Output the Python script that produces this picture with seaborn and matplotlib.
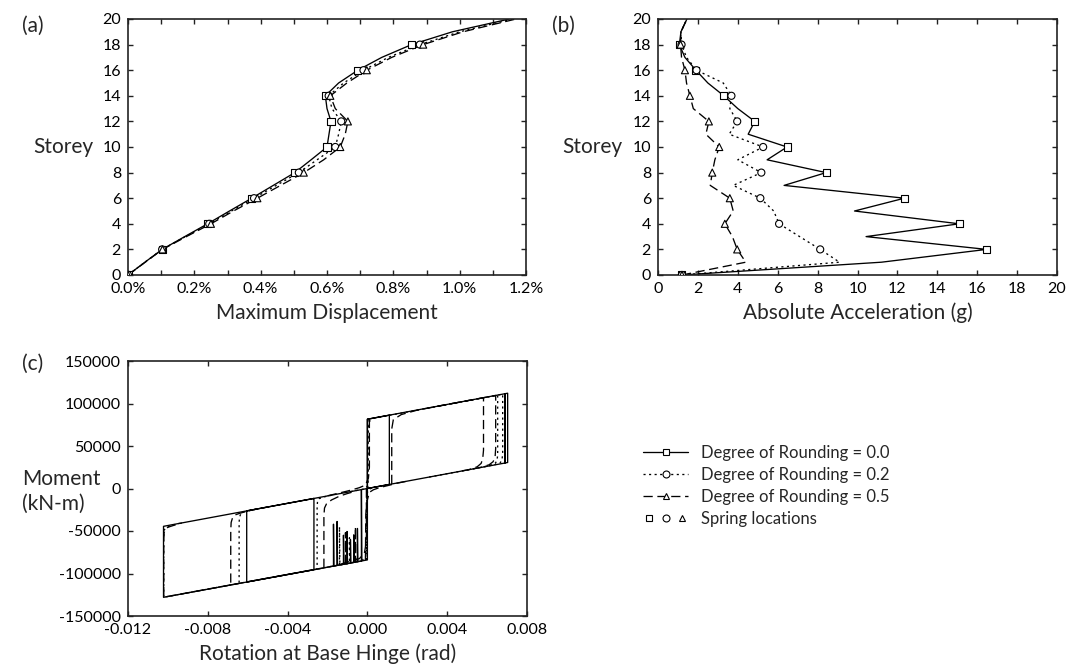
import numpy as np
import pandas as pd
import matplotlib
matplotlib.use("Agg")
import matplotlib.pyplot as plt
import seaborn as sns
from matplotlib.lines import Line2D
from matplotlib.legend_handler import HandlerTuple
from matplotlib.ticker import MultipleLocator, FuncFormatter

# ---------------- data ----------------
series_names = ["Degree of Rounding = 0.0", "Degree of Rounding = 0.2", "Degree of Rounding = 0.5"]
storeys = list(range(21))
spring_storeys = [0, 2, 4, 6, 8, 10, 12, 14, 16, 18]

# (a) maximum displacement (%) per storey 0..20
disp_r00 = [0, 0.051, 0.103, 0.171, 0.24, 0.306, 0.373, 0.438, 0.503, 0.552, 0.600, 0.606, 0.612, 0.600, 0.595, 0.635, 0.693, 0.765, 0.855, 0.978, 1.15]
disp_r02 = [0, 0.051, 0.103, 0.173, 0.245, 0.312, 0.38, 0.447, 0.515, 0.57, 0.625, 0.635, 0.643, 0.615, 0.605, 0.65, 0.71, 0.785, 0.88, 1.0, 1.16]
disp_r05 = [0, 0.052, 0.104, 0.176, 0.25, 0.318, 0.39, 0.46, 0.53, 0.59, 0.64, 0.655, 0.663, 0.625, 0.61, 0.66, 0.72, 0.795, 0.89, 1.01, 1.17]

# (b) absolute acceleration (g) per storey 0..20
acc_r00 = [1.2, 11.2, 16.47, 10.43, 15.1, 9.85, 12.35, 6.32, 8.43, 5.47, 6.47, 4.52, 4.85, 4.0, 3.3, 2.5, 1.9, 1.35, 1.07, 1.15, 1.45]
acc_r02 = [1.2, 9.1, 8.13, 7.1, 6.07, 5.8, 5.13, 3.77, 5.18, 4.0, 5.27, 3.57, 3.97, 3.6, 3.68, 3.27, 1.93, 1.43, 1.18, 1.15, 1.45]
acc_r05 = [1.2, 4.4, 3.97, 3.73, 3.35, 3.77, 3.6, 2.62, 2.72, 2.85, 3.07, 2.4, 2.55, 1.77, 1.6, 1.43, 1.35, 1.18, 1.13, 1.15, 1.45]

# (c) moment-rotation hysteresis paths (rad, kN-m), stroke ids
rot_r00 = [0, 0, 0.0011, 0.0011, 0, 0, 0.00703, 0.00703, 0.0069, 0.0069, 0.0069, 0, -0.00268, -0.00268, -0.00605, -0.00605, -0.00268, -0.01022, -0.01022, 0, 0,
           -0.0017, -0.0017, -0.00168, -0.00152, -0.00152, -0.0015, -0.0012, -0.0012, -0.00118, -0.00102, -0.00102, -0.001,
           -0.00085, -0.00085, -0.00083, -0.00068, -0.00068, -0.00066, -0.0005, -0.0005, -0.00048, -0.0003, -0.0003, -0.00028]
mom_r00 = [0, 81500, 86300, 4800, 0, 81500, 112100, 30600, 30000, 111500, 30000, 0, -11700, -95500, -110000, -26300, -11700, -44500, -128000, -84000, 0,
           -91300, -42000, -91200, -90500, -38800, -90400, -89200, -55000, -89100, -88400, -50600, -88300,
           -87700, -60000, -87600, -86900, -54500, -86800, -86200, -47000, -86100, -85300, -1300, -85200]
stk_r00 = [0] * 21 + [1] * 24

rot_r02 = [-0.00005, -0.00004, 0.0, 0.0001, 0.0003, 0.0006, 0.0011,
           0.00003, 0.00003, 0.0001, 0.0003, 0.0006, 0.00678, 0.00678, 0.00674, 0.00664, 0.0064, 0.006, 0.003,
           0.003, 0.00653, 0.00653, 0.00649, 0.0064, 0.0061, 0.0057,
           0.00003, 0.00003, 0.0, -0.0001, -0.0003, -0.0006, -0.0011,
           -0.00003, -0.00003, -0.0001, -0.0003, -0.0006, -0.01021,
           -0.01021, -0.01021, -0.01019, -0.0101, -0.0098, -0.0094,
           -0.0094, -0.00643, -0.00643, -0.00641, -0.00635, -0.0062, -0.0059, -0.0055,
           -0.0045, -0.00252, -0.00252, -0.0025, -0.00242, -0.0022, -0.0018,
           -0.0014, -0.0014, -0.00138, -0.0009, -0.0009, -0.00088]
mom_r02 = [-84200, -15000, -4500, -600, 1000, 2500, 4785,
           0, 70000, 79000, 82600, 83900, 111000, 40000, 33000, 29800, 28100, 26200, 13050,
           94550, 109900, 39000, 32500, 29500, 27000, 24850,
           81630, 12000, 3000, -200, -1250, -2550, -4785,
           0, -70000, -82000, -84800, -86400, -127900,
           -127900, -56000, -49000, -46200, -43200, -40900,
           -124420, -111650, -40000, -33500, -30200, -27800, -25900, -23950,
           -103350, -94840, -22000, -15000, -12000, -10000, -7950,
           -90020, -45000, -89930, -87870, -58000, -87780]
stk_r02 = [0] * 7 + [1] * 12 + [2] * 7 + [3] * 7 + [4] * 6 + [5] * 6 + [6] * 8 + [7] * 7 + [8] * 6

rot_r05 = [-0.0001, -0.00008, -0.00002, 0.0001, 0.0003, 0.0006, 0.001, 0.0015, 0.002,
           0.00122, 0.00122, 0.0013, 0.0017, 0.0025, 0.00582, 0.00582, 0.00578, 0.0057, 0.0055, 0.0051, 0.0045,
           0.0035, 0.00643, 0.00643, 0.0064, 0.0063, 0.0061, 0.0057, 0.005,
           0.0001, 0.0001, 0.00005, -0.0001, -0.0004, -0.0008, -0.0013, -0.002,
           -0.00005, -0.00005, -0.00015, -0.0004, -0.0008, -0.0015, -0.00218,
           -0.00218, -0.00218, -0.00215, -0.00205, -0.0018, -0.0014, -0.001, -0.0006,
           -0.00218, -0.00685, -0.00685, -0.00683, -0.00676, -0.00662, -0.0064, -0.006, -0.0055, -0.005,
           -0.00685, -0.01021, -0.01021, -0.01019, -0.01012, -0.01, -0.0097, -0.0093,
           -0.0011, -0.0011, -0.00108, -0.0006, -0.0006, -0.00058]
mom_r05 = [-84430, -30000, -15000, -4500, -1500, 1000, 3300, 6300, 8650,
           5307, 70000, 81000, 87000, 92200, 106800, 45000, 35000, 29500, 25500, 22300, 19575,
           96725, 109470, 47000, 37000, 31500, 27900, 25000, 21750,
           81935, 25000, 12000, 4000, 1000, -1800, -4700, -8600,
           0, -62000, -76000, -82500, -85000, -90200, -93370,
           -93370, -32000, -23000, -18000, -13500, -9000, -5900, -3200,
           -93370, -113460, -50000, -40000, -34500, -31000, -29200, -26500, -24000, -21800,
           -113460, -127900, -62000, -52000, -47500, -45600, -43300, -40500,
           -88730, -52000, -88640, -86580, -45000, -86500]
stk_r05 = [0] * 9 + [1] * 12 + [2] * 8 + [3] * 8 + [4] * 7 + [5] * 8 + [6] * 10 + [7] * 8 + [8] * 6

# ---------------- styling ----------------
sns.set_theme(style="ticks")
plt.rcParams["font.family"] = ["Lato", "DejaVu Sans"]
plt.rcParams.update({
    "axes.unicode_minus": False,
    "xtick.direction": "in", "ytick.direction": "in",
    "xtick.top": True, "ytick.right": True,
    "xtick.major.size": 3.5, "ytick.major.size": 3.5,
    "xtick.minor.size": 3.5, "ytick.minor.size": 3.5,
    "xtick.major.width": 1.0, "ytick.major.width": 1.0,
    "xtick.minor.width": 1.0,
    "axes.linewidth": 1.2, "axes.edgecolor": "#222222",
    "xtick.color": "#222222", "ytick.color": "#222222",
    "xtick.labelcolor": "black", "ytick.labelcolor": "black",
    "xtick.labelsize": 11.5, "ytick.labelsize": 11.5,
})

dash_map = {series_names[0]: "", series_names[1]: (1.6, 2.6), series_names[2]: (7, 3.5)}
marker_map = {series_names[0]: "s", series_names[1]: "o", series_names[2]: "^"}
LW = 0.95

W, H = 1070, 671
fig = plt.figure(figsize=(W / 100, H / 100), dpi=100)


def box(l, t, r, b):
    return [l / W, 1 - b / H, (r - l) / W, (b - t) / H]


ax_a = fig.add_axes(box(128, 19, 526, 275))
ax_b = fig.add_axes(box(658, 19, 1057, 275))
ax_c = fig.add_axes(box(128, 361, 527, 616))

# ---------------- (a) & (b) ----------------
def profile_frame(vals_list):
    rows = []
    for name, vals in zip(series_names, vals_list):
        for s, v in zip(storeys, vals):
            rows.append({"storey": s, "value": v, "series": name})
    return pd.DataFrame(rows)


df_a = profile_frame([disp_r00, disp_r02, disp_r05])
df_b = profile_frame([acc_r00, acc_r02, acc_r05])

for ax, df in [(ax_a, df_a), (ax_b, df_b)]:
    sns.lineplot(data=df, x="value", y="storey", style="series", dashes=dash_map,
                 color="black", lw=LW, estimator=None, sort=False, legend=False, ax=ax)
    dm = df[df["storey"].isin(spring_storeys)]
    sns.scatterplot(data=dm, x="value", y="storey", style="series", markers=marker_map,
                    color="white", edgecolor="black", linewidth=0.8, s=26, legend=False,
                    ax=ax, zorder=5)
    ax.set_ylim(0, 20)
    ax.yaxis.set_major_locator(MultipleLocator(2))
    ax.set_ylabel("Storey", rotation=0, ha="right", va="center", fontsize=15)
    ax.yaxis.set_label_coords(-0.088, 0.5)

ax_a.set_xlim(0, 1.2)
ax_a.xaxis.set_major_locator(MultipleLocator(0.2))
ax_a.xaxis.set_minor_locator(MultipleLocator(0.1))
ax_a.xaxis.set_major_formatter(FuncFormatter(lambda v, p: f"{abs(v) if abs(v) < 1e-9 else v:.1f}%"))
ax_a.set_xlabel("Maximum Displacement", fontsize=15, labelpad=5)

ax_b.set_xlim(0, 20)
ax_b.xaxis.set_major_locator(MultipleLocator(2))
ax_b.set_xlabel("Absolute Acceleration (g)", fontsize=15, labelpad=5)

# ---------------- (c) ----------------
rows = []
for name, th, mo, st in [(series_names[0], rot_r00, mom_r00, stk_r00),
                         (series_names[1], rot_r02, mom_r02, stk_r02),
                         (series_names[2], rot_r05, mom_r05, stk_r05)]:
    for t, m, s in zip(th, mo, st):
        rows.append({"theta": t, "M": m, "series": name, "stroke": f"{name}-{s}"})
df_c = pd.DataFrame(rows)
sns.lineplot(data=df_c, x="theta", y="M", style="series", dashes=dash_map, units="stroke",
             color="black", lw=LW, estimator=None, sort=False, legend=False, ax=ax_c)
ax_c.set_xlim(-0.012, 0.008)
ax_c.set_ylim(-150000, 150000)
ax_c.xaxis.set_major_locator(MultipleLocator(0.004))
ax_c.yaxis.set_major_locator(MultipleLocator(50000))
ax_c.xaxis.set_major_formatter(FuncFormatter(lambda v, p: f"{0.0 if abs(v) < 1e-12 else v:.3f}"))
ax_c.yaxis.set_major_formatter(FuncFormatter(lambda v, p: f"{int(round(v))}"))
ax_c.set_xlabel("Rotation at Base Hinge (rad)", fontsize=15, labelpad=5)
ax_c.set_ylabel("Moment\n(kN-m)", rotation=0, ha="left", va="center", fontsize=15,
                multialignment="left", linespacing=1.3)
ax_c.yaxis.set_label_coords(-0.266, 0.49)

for ax in (ax_a, ax_b, ax_c):
    ax.tick_params(which="both", direction="in", top=True, right=True, pad=5)

# panel letters
fig.text(22 / W, 1 - 26 / H, "(a)", fontsize=15, ha="left", va="center")
fig.text(552 / W, 1 - 26 / H, "(b)", fontsize=15, ha="left", va="center")
fig.text(22 / W, 1 - 364 / H, "(c)", fontsize=15, ha="left", va="center")

# legend
def lh(name):
    return Line2D([], [], color="black", lw=LW,
                  linestyle=("-" if dash_map[name] == "" else (0, dash_map[name])),
                  marker=marker_map[name], markersize=5, markerfacecolor="white",
                  markeredgecolor="black", markeredgewidth=0.8)

spring_handle = tuple(Line2D([], [], linestyle="none", marker=m, markersize=5,
                             markerfacecolor="white", markeredgecolor="black", markeredgewidth=0.8)
                      for m in ["s", "o", "^"])
handles = [lh(n) for n in series_names] + [spring_handle]
labels = series_names + ["Spring locations"]
fig.legend(handles, labels, loc="center left", bbox_to_anchor=(628 / W, 1 - 486 / H),
           frameon=False, fontsize=12, handlelength=2.7, handletextpad=0.8,
           labelspacing=0.35, borderpad=0.4,
           handler_map={tuple: HandlerTuple(ndivide=None, pad=0.2)})

fig.savefig("out.png", dpi=100)
